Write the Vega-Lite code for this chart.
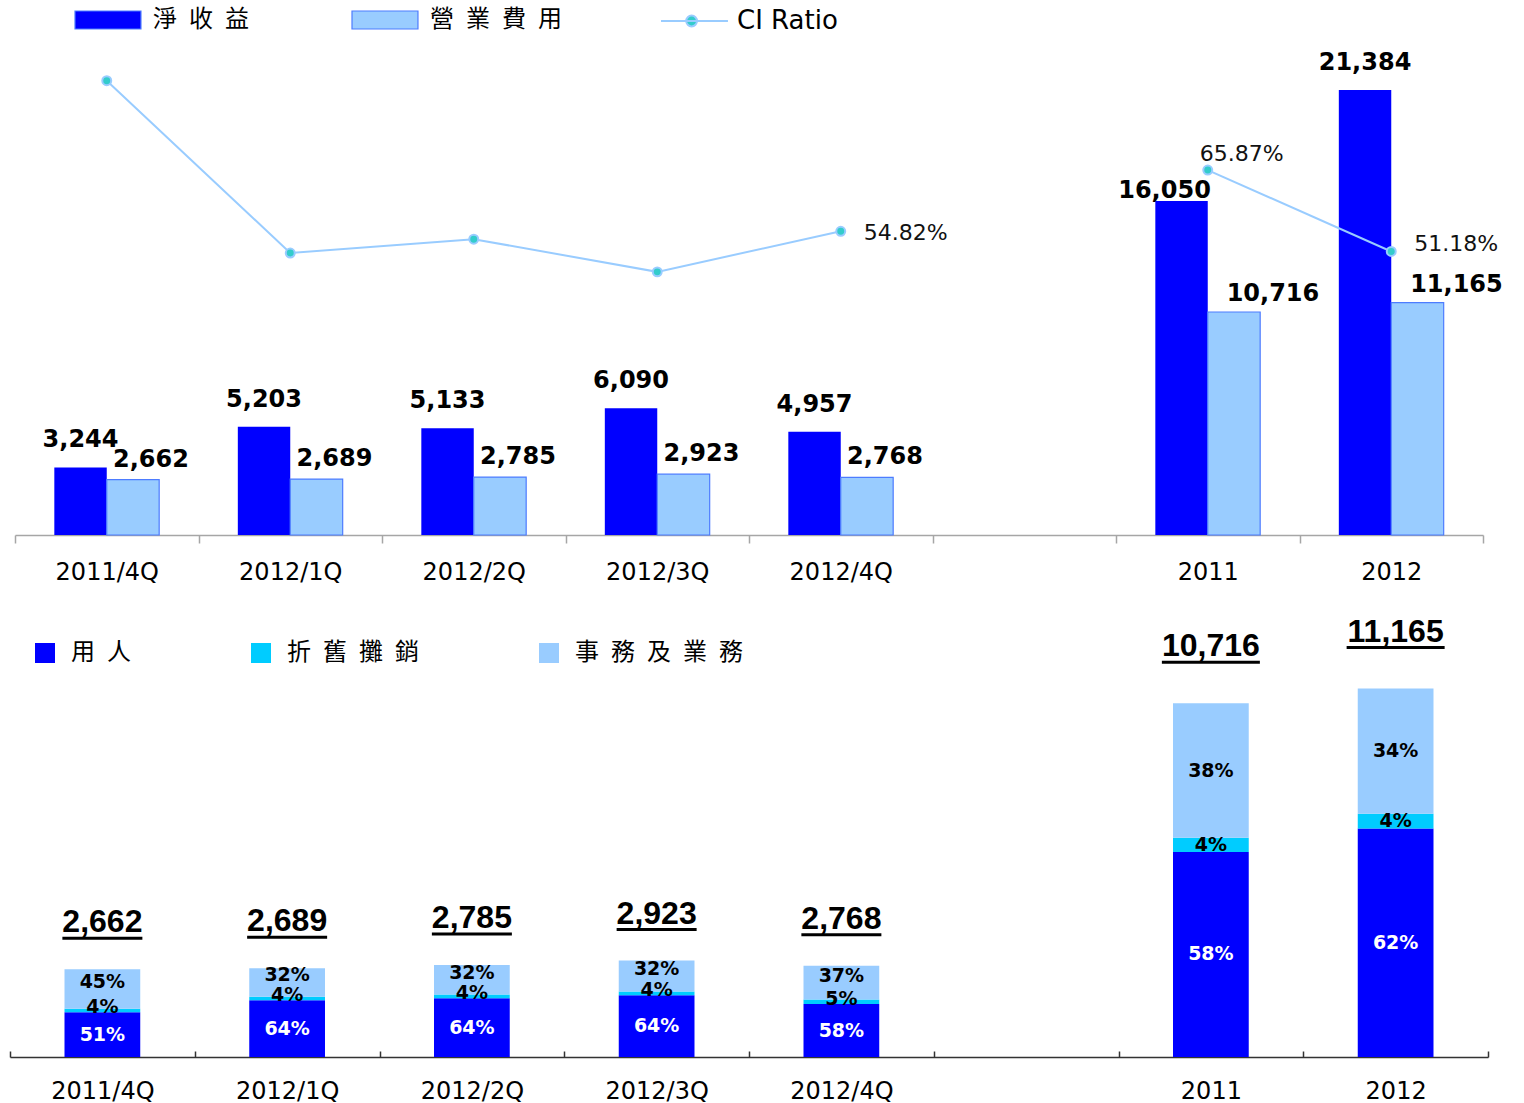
{
  "$schema": "https://vega.github.io/schema/vega-lite/v6.json",
  "background": "white",
  "padding": {"left": 9, "top": 5, "right": 0, "bottom": 0},
  "bounds": "flush",
  "spacing": 65,
  "center": true,
  "config": {"view": {"stroke": null}, "font": "DejaVu Sans"},
  "datasets": {
    "top": [
      {"cat": "2011/4Q", "series": "淨收益", "value": 3244},
      {"cat": "2011/4Q", "series": "營業費用", "value": 2662},
      {"cat": "2012/1Q", "series": "淨收益", "value": 5203},
      {"cat": "2012/1Q", "series": "營業費用", "value": 2689},
      {"cat": "2012/2Q", "series": "淨收益", "value": 5133},
      {"cat": "2012/2Q", "series": "營業費用", "value": 2785},
      {"cat": "2012/3Q", "series": "淨收益", "value": 6090},
      {"cat": "2012/3Q", "series": "營業費用", "value": 2923},
      {"cat": "2012/4Q", "series": "淨收益", "value": 4957},
      {"cat": "2012/4Q", "series": "營業費用", "value": 2768},
      {"cat": "2011", "series": "淨收益", "value": 16050},
      {"cat": "2011", "series": "營業費用", "value": 10716},
      {"cat": "2012", "series": "淨收益", "value": 21384},
      {"cat": "2012", "series": "營業費用", "value": 11165}
    ],
    "ci": [
      {"cat": "2011/4Q", "grp": "Q", "ratio": 82.0, "label": ""},
      {"cat": "2012/1Q", "grp": "Q", "ratio": 50.9, "label": ""},
      {"cat": "2012/2Q", "grp": "Q", "ratio": 53.4, "label": ""},
      {"cat": "2012/3Q", "grp": "Q", "ratio": 47.5, "label": ""},
      {"cat": "2012/4Q", "grp": "Q", "ratio": 54.82, "label": "54.82%"},
      {"cat": "2011", "grp": "Y", "ratio": 65.87, "label": "65.87%"},
      {"cat": "2012", "grp": "Y", "ratio": 51.18, "label": "51.18%"}
    ],
    "bottom": [
      {"cat": "2011/4Q", "comp": "用人", "value": 1358, "pct": "51%"},
      {"cat": "2011/4Q", "comp": "折舊攤銷", "value": 106, "pct": "4%"},
      {"cat": "2011/4Q", "comp": "事務及業務", "value": 1198, "pct": "45%"},
      {"cat": "2012/1Q", "comp": "用人", "value": 1721, "pct": "64%"},
      {"cat": "2012/1Q", "comp": "折舊攤銷", "value": 108, "pct": "4%"},
      {"cat": "2012/1Q", "comp": "事務及業務", "value": 860, "pct": "32%"},
      {"cat": "2012/2Q", "comp": "用人", "value": 1782, "pct": "64%"},
      {"cat": "2012/2Q", "comp": "折舊攤銷", "value": 111, "pct": "4%"},
      {"cat": "2012/2Q", "comp": "事務及業務", "value": 892, "pct": "32%"},
      {"cat": "2012/3Q", "comp": "用人", "value": 1871, "pct": "64%"},
      {"cat": "2012/3Q", "comp": "折舊攤銷", "value": 117, "pct": "4%"},
      {"cat": "2012/3Q", "comp": "事務及業務", "value": 935, "pct": "32%"},
      {"cat": "2012/4Q", "comp": "用人", "value": 1605, "pct": "58%"},
      {"cat": "2012/4Q", "comp": "折舊攤銷", "value": 138, "pct": "5%"},
      {"cat": "2012/4Q", "comp": "事務及業務", "value": 1025, "pct": "37%"},
      {"cat": "2011", "comp": "用人", "value": 6215, "pct": "58%"},
      {"cat": "2011", "comp": "折舊攤銷", "value": 429, "pct": "4%"},
      {"cat": "2011", "comp": "事務及業務", "value": 4072, "pct": "38%"},
      {"cat": "2012", "comp": "用人", "value": 6922, "pct": "62%"},
      {"cat": "2012", "comp": "折舊攤銷", "value": 447, "pct": "4%"},
      {"cat": "2012", "comp": "事務及業務", "value": 3796, "pct": "34%"}
    ],
    "totals": [
      {"cat": "2011/4Q", "grp": "Q", "total": 2662},
      {"cat": "2012/1Q", "grp": "Q", "total": 2689},
      {"cat": "2012/2Q", "grp": "Q", "total": 2785},
      {"cat": "2012/3Q", "grp": "Q", "total": 2923},
      {"cat": "2012/4Q", "grp": "Q", "total": 2768},
      {"cat": "2011", "grp": "Y", "total": 10716},
      {"cat": "2012", "grp": "Y", "total": 11165}
    ]
  },
  "resolve": {
    "scale": {"x": "independent", "y": "independent", "color": "independent"},
    "legend": {"color": "independent"},
    "axis": {"x": "independent"}
  },
  "vconcat": [
    {
      "width": 1468,
      "height": 530,
      "encoding": {
        "x": {
          "field": "cat", "type": "nominal",
          "scale": {"domain": ["2011/4Q", "2012/1Q", "2012/2Q", "2012/3Q", "2012/4Q", "gap", "2011", "2012"], "paddingInner": 0, "paddingOuter": 0},
          "axis": {
            "title": null, "labelExpr": "datum.value === 'gap' ? '' : datum.value",
            "tickBand": "extent", "labelAngle": 0, "labelFont": "DejaVu Sans", "labelFontSize": 24,
            "labelColor": "black", "labelPadding": 17, "tickSize": 8, "tickColor": "#A6A6A6",
            "domainColor": "#A6A6A6", "domainWidth": 1.5, "tickWidth": 1.5, "grid": false
          }
        }
      },
      "resolve": {"scale": {"y": "independent"}},
      "layer": [
        {
          "data": {"name": "top"},
          "mark": {"type": "bar", "strokeWidth": 1.2},
          "encoding": {
            "xOffset": {"field": "series", "type": "nominal", "scale": {"domain": ["淨收益", "營業費用"], "paddingInner": 0, "paddingOuter": 0.75}},
            "y": {"field": "value", "type": "quantitative", "scale": {"domain": [0, 25467], "nice": false}, "axis": null},
            "color": {
              "field": "series", "type": "nominal",
              "scale": {"domain": ["淨收益", "營業費用"], "range": ["#0000FF", "#99CCFF"]},
              "legend": {
                "orient": "none", "legendX": 57, "legendY": 3, "direction": "horizontal", "title": null,
                "symbolType": "M-1,-1H6.33V1H-1Z", "symbolSize": 324, "symbolStrokeColor": "#4D7CFF", "symbolStrokeWidth": 1.2,
                "labelOffset": 57, "columnPadding": 100, "labelFontSize": 24,
                "labelFont": "Noto Sans CJK TC",
                "labelColor": "black", "labelLimit": 400, "padding": 0,
                "labelExpr": "join(split(datum.label, ''), '\u2002')"
              }
            },
            "stroke": {"condition": {"test": "datum.series === '營業費用'", "value": "#4D7CFF"}, "value": "transparent"}
          }
        },
        {
          "data": {"name": "top"},
          "transform": [{"filter": "datum.series === '淨收益' && datum.cat !== '2011'"}],
          "mark": {"type": "text", "font": "DejaVu Sans", "fontWeight": "bold", "fontSize": 24, "dy": -27, "baseline": "middle", "color": "black"},
          "encoding": {
            "xOffset": {"field": "series", "type": "nominal", "scale": {"domain": ["淨收益", "營業費用"], "paddingInner": 0, "paddingOuter": 0.75}},
            "y": {"field": "value", "type": "quantitative", "scale": {"domain": [0, 25467], "nice": false}, "axis": null},
            "text": {"field": "value", "type": "quantitative", "format": ","}
          }
        },
        {
          "data": {"name": "top"},
          "transform": [{"filter": "datum.series === '淨收益' && datum.cat === '2011'"}],
          "mark": {"type": "text", "font": "DejaVu Sans", "fontWeight": "bold", "fontSize": 24, "dy": -10, "dx": -17, "baseline": "middle", "color": "black"},
          "encoding": {
            "xOffset": {"field": "series", "type": "nominal", "scale": {"domain": ["淨收益", "營業費用"], "paddingInner": 0, "paddingOuter": 0.75}},
            "y": {"field": "value", "type": "quantitative", "scale": {"domain": [0, 25467], "nice": false}, "axis": null},
            "text": {"field": "value", "type": "quantitative", "format": ","}
          }
        },
        {
          "data": {"name": "top"},
          "transform": [{"filter": "datum.series === '營業費用' && datum.cat !== '2011' && datum.cat !== '2012'"}],
          "mark": {"type": "text", "font": "DejaVu Sans", "fontWeight": "bold", "fontSize": 24, "dy": -20, "dx": 18, "baseline": "middle", "color": "black"},
          "encoding": {
            "xOffset": {"field": "series", "type": "nominal", "scale": {"domain": ["淨收益", "營業費用"], "paddingInner": 0, "paddingOuter": 0.75}},
            "y": {"field": "value", "type": "quantitative", "scale": {"domain": [0, 25467], "nice": false}, "axis": null},
            "text": {"field": "value", "type": "quantitative", "format": ","}
          }
        },
        {
          "data": {"name": "top"},
          "transform": [{"filter": "datum.series === '營業費用' && (datum.cat === '2011' || datum.cat === '2012')"}],
          "mark": {"type": "text", "font": "DejaVu Sans", "fontWeight": "bold", "fontSize": 24, "dy": -18, "dx": 39, "baseline": "middle", "color": "black"},
          "encoding": {
            "xOffset": {"field": "series", "type": "nominal", "scale": {"domain": ["淨收益", "營業費用"], "paddingInner": 0, "paddingOuter": 0.75}},
            "y": {"field": "value", "type": "quantitative", "scale": {"domain": [0, 25467], "nice": false}, "axis": null},
            "text": {"field": "value", "type": "quantitative", "format": ","}
          }
        },
        {
          "data": {"name": "ci"},
          "mark": {"type": "line", "strokeWidth": 2},
          "encoding": {
            "y": {"field": "ratio", "type": "quantitative", "scale": {"domain": [0, 95.67], "nice": false}, "axis": null},
            "detail": {"field": "grp", "type": "nominal"},
            "stroke": {
              "datum": "CI Ratio", "type": "nominal",
              "scale": {"domain": ["CI Ratio"], "range": ["#99CCFF"]},
              "legend": {
                "orient": "none", "legendX": 647, "legendY": 3, "title": null,
                "symbolType": "M-1,0H6.44M3,0A0.6,0.6,0,1,1,1.8,0A0.6,0.6,0,1,1,3,0Z",
                "symbolSize": 324, "symbolFillColor": "#33CCCC", "symbolStrokeWidth": 2,
                "labelOffset": 54, "labelFont": "DejaVu Sans", "labelFontSize": 26,
                "labelColor": "black", "labelLimit": 400, "padding": 0
              }
            }
          }
        },
        {
          "data": {"name": "ci"},
          "mark": {"type": "circle", "color": "#33CCCC", "stroke": "#99CCFF", "strokeWidth": 2, "size": 80, "opacity": 1},
          "encoding": {
            "y": {"field": "ratio", "type": "quantitative", "scale": {"domain": [0, 95.67], "nice": false}, "axis": null}
          }
        },
        {
          "data": {"name": "ci"},
          "transform": [{"filter": "datum.label !== '' && datum.cat !== '2011'"}],
          "mark": {"type": "text", "font": "DejaVu Sans", "fontSize": 22, "align": "left", "baseline": "middle", "dx": 23, "dy": {"expr": "datum.cat === '2012' ? -7 : 2"}, "color": "#111111"},
          "encoding": {
            "y": {"field": "ratio", "type": "quantitative", "scale": {"domain": [0, 95.67], "nice": false}, "axis": null},
            "text": {"field": "label"}
          }
        },
        {
          "data": {"name": "ci"},
          "transform": [{"filter": "datum.cat === '2011'"}],
          "mark": {"type": "text", "font": "DejaVu Sans", "fontSize": 22, "align": "center", "baseline": "middle", "dx": 34, "dy": -16, "color": "#111111"},
          "encoding": {
            "y": {"field": "ratio", "type": "quantitative", "scale": {"domain": [0, 95.67], "nice": false}, "axis": null},
            "text": {"field": "label"}
          }
        }
      ]
    },
    {
      "width": 1478,
      "height": 457,
      "encoding": {
        "x": {
          "field": "cat", "type": "nominal",
          "scale": {"domain": ["2011/4Q", "2012/1Q", "2012/2Q", "2012/3Q", "2012/4Q", "gap", "2011", "2012"], "paddingInner": 0, "paddingOuter": 0},
          "axis": {
            "title": null, "labelExpr": "datum.value === 'gap' ? '' : datum.value",
            "tickBand": "extent", "labelAngle": 0, "labelFont": "DejaVu Sans", "labelFontSize": 24,
            "labelColor": "black", "labelPadding": 28, "tickSize": -6, "tickColor": "#333333",
            "domainColor": "#333333", "domainWidth": 1.5, "tickWidth": 1.5, "grid": false
          }
        }
      },
      "layer": [
        {
          "data": {"name": "bottom"},
          "mark": {"type": "bar", "width": {"band": 0.41}},
          "encoding": {
            "y": {"field": "value", "type": "quantitative", "stack": "zero", "scale": {"domain": [0, 13847], "nice": false}, "axis": null},
            "color": {
              "field": "comp", "type": "nominal",
              "scale": {"domain": ["用人", "折舊攤銷", "事務及業務"], "range": ["#0000FF", "#00CCFF", "#99CCFF"]},
              "legend": {
                "orient": "none", "legendX": 23, "legendY": 41, "direction": "horizontal", "title": null,
                "symbolType": "square", "symbolSize": 400, "symbolStrokeWidth": 0, "labelOffset": 14,
                "columnPadding": 118, "labelFont": "Noto Sans CJK TC", "labelFontSize": 24,
                "labelColor": "black", "labelLimit": 400, "padding": 0,
                "labelExpr": "join(split(datum.label, ''), '\u2002')"
              }
            },
            "order": {"field": "comp", "sort": "descending"}
          }
        },
        {
          "data": {"name": "bottom"},
          "mark": {
            "type": "text", "font": "DejaVu Sans", "fontWeight": "bold", "fontSize": 19, "baseline": "middle",
            "dy": {"expr": "datum.comp === '事務及業務' && datum.value < 2000 ? -7 : (datum.comp === '折舊攤銷' && datum.value < 200 ? -3 : 0)"}
          },
          "encoding": {
            "y": {"field": "value", "type": "quantitative", "stack": "zero", "bandPosition": 0.5, "scale": {"domain": [0, 13847], "nice": false}, "axis": null},
            "detail": {"field": "comp", "type": "nominal"},
            "order": {"field": "comp", "sort": "descending"},
            "text": {"field": "pct"},
            "color": {"condition": {"test": "datum.comp === '用人'", "value": "white"}, "value": "black"}
          }
        },
        {
          "data": {"name": "totals"},
          "transform": [{"filter": "datum.grp === 'Q'"}],
          "mark": {"type": "text", "font": "Liberation Sans", "fontWeight": "bold", "fontSize": 32, "dy": -47, "baseline": "middle", "color": "black"},
          "encoding": {
            "y": {"field": "total", "type": "quantitative", "scale": {"domain": [0, 13847], "nice": false}, "axis": null},
            "text": {"field": "total", "type": "quantitative", "format": ","}
          }
        },
        {
          "data": {"name": "totals"},
          "transform": [{"filter": "datum.grp === 'Y'"}],
          "mark": {"type": "text", "font": "Liberation Sans", "fontWeight": "bold", "fontSize": 32, "dy": -57, "baseline": "middle", "color": "black"},
          "encoding": {
            "y": {"field": "total", "type": "quantitative", "scale": {"domain": [0, 13847], "nice": false}, "axis": null},
            "text": {"field": "total", "type": "quantitative", "format": ","}
          }
        },
        {
          "data": {"name": "totals"},
          "transform": [{"filter": "datum.grp === 'Q'"}],
          "mark": {"type": "tick", "orient": "horizontal", "size": 80, "thickness": 3, "color": "black", "yOffset": -31, "opacity": 1},
          "encoding": {
            "y": {"field": "total", "type": "quantitative", "scale": {"domain": [0, 13847], "nice": false}, "axis": null}
          }
        },
        {
          "data": {"name": "totals"},
          "transform": [{"filter": "datum.grp === 'Y'"}],
          "mark": {"type": "tick", "orient": "horizontal", "size": 98, "thickness": 3, "color": "black", "yOffset": -41, "opacity": 1},
          "encoding": {
            "y": {"field": "total", "type": "quantitative", "scale": {"domain": [0, 13847], "nice": false}, "axis": null}
          }
        }
      ]
    }
  ]
}
